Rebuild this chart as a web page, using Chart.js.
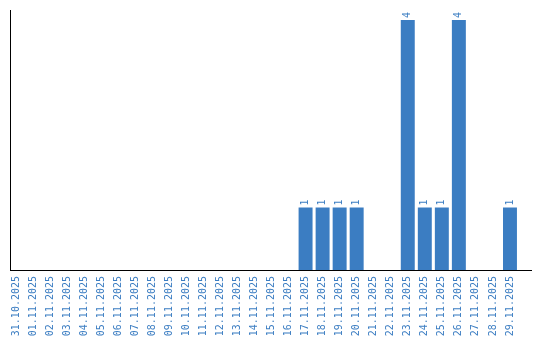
<!DOCTYPE html>
<html>
<head>
<meta charset="utf-8">
<script src="https://cdn.jsdelivr.net/npm/chart.js@4/dist/chart.umd.min.js"></script>
<style>
  html, body { margin: 0; padding: 0; background: #fff; }
  #wrap { width: 540px; height: 340px; }
</style>
</head>
<body>
<div id="wrap"><canvas id="activityChart"></canvas></div>
<script>
const dates = [
    "31.10.2025", "01.11.2025", "02.11.2025", "03.11.2025", "04.11.2025",
    "05.11.2025", "06.11.2025", "07.11.2025", "08.11.2025", "09.11.2025",
    "10.11.2025", "11.11.2025", "12.11.2025", "13.11.2025", "14.11.2025",
    "15.11.2025", "16.11.2025", "17.11.2025", "18.11.2025", "19.11.2025",
    "20.11.2025", "21.11.2025", "22.11.2025", "23.11.2025", "24.11.2025",
    "25.11.2025", "26.11.2025", "27.11.2025", "28.11.2025", "29.11.2025"
];
const counts = [
    0, 0, 0, 0, 0,
    0, 0, 0, 0, 0,
    0, 0, 0, 0, 0,
    0, 0, 1, 1, 1,
    1, 0, 0, 4, 1,
    1, 4, 0, 0, 1
];

const blue = "#3b7dc2";
const monoFont = { family: "'DejaVu Sans Mono', monospace", size: 10 };

// 막대 위에 세로로 값 표시
const valueLabels = {
    id: "valueLabels",
    afterDatasetsDraw(chart) {
        const ctx = chart.ctx;
        const meta = chart.getDatasetMeta(0);
        ctx.save();
        ctx.fillStyle = blue;
        ctx.font = "10px 'DejaVu Sans Mono', monospace";
        ctx.textAlign = "left";
        ctx.textBaseline = "middle";
        meta.data.forEach((bar, i) => {
            const v = counts[i];
            if (!v) return;
            ctx.save();
            ctx.translate(bar.x, bar.y - 2);
            ctx.rotate(-Math.PI / 2);
            ctx.fillText(String(v), 0, 0);
            ctx.restore();
        });
        ctx.restore();
    }
};

new Chart(document.getElementById("activityChart").getContext("2d"), {
    type: "bar",
    data: {
        datasets: [{
            data: counts.map((c, i) => ({ x: i, y: c })),
            backgroundColor: blue,
            barPercentage: 0.82,
            categoryPercentage: 1.0
        }]
    },
    options: {
        responsive: true,
        maintainAspectRatio: false,
        animation: false,
        layout: { padding: { left: 10, right: 9, top: 10, bottom: 0 } },
        plugins: {
            legend: { display: false },
            tooltip: { enabled: false }
        },
        scales: {
            x: {
                type: "linear",
                min: -0.353,
                max: 30.235,
                offset: false,
                grid: { display: false, drawTicks: false },
                border: { display: true, color: "#000", width: 1 },
                ticks: {
                    stepSize: 1,
                    includeBounds: false,
                    autoSkip: false,
                    color: blue,
                    font: monoFont,
                    minRotation: 90,
                    maxRotation: 90,
                    padding: 6,
                    callback: v => (Number.isInteger(v) && dates[v]) ? dates[v] : ""
                },
                afterFit: scale => {
                    scale.paddingLeft = 0;
                    scale.paddingRight = 0;
                    scale.height = 70;
                }
            },
            y: {
                min: 0,
                max: 4.16,
                grid: { display: false, drawTicks: false },
                border: { display: true, color: "#000", width: 1 },
                ticks: { display: false }
            }
        }
    },
    plugins: [valueLabels]
});
</script>
</body>
</html>
